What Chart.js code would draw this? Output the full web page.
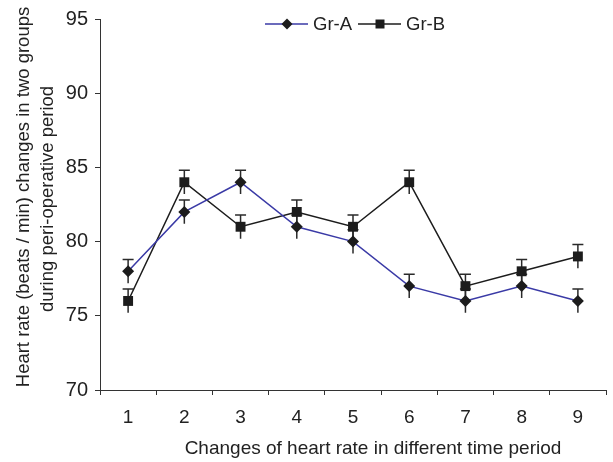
<!DOCTYPE html>
<html>
<head>
<meta charset="utf-8">
<script src="https://cdn.jsdelivr.net/npm/chart.js@4"></script>
<style>
  html, body { margin: 0; padding: 0; background: #fff; }
  #wrap { width: 613px; height: 462px; }
</style>
</head>
<body>
<div id="wrap"><canvas id="chart"></canvas></div>
<script>
const periods = ["1", "2", "3", "4", "5", "6", "7", "8", "9"];
const grA = [78, 82, 84, 81, 80, 77, 76, 77, 76];
const grB = [76, 84, 81, 82, 81, 84, 77, 78, 79];
const errA = [0.8, 0.8, 0.8, 0.8, 0.8, 0.8, 0.8, 0.8, 0.8];
const errB = [0.8, 0.8, 0.8, 0.8, 0.8, 0.8, 0.8, 0.8, 0.8];
const yTicks = [70, 75, 80, 85, 90, 95];

const FONT = "'Liberation Sans', Arial, sans-serif";
const BLUE = "#3a3aa6";
const DARK = "#1c1c1c";

// error bars: stem through the point, cap only on top
const errorBars = {
  id: "errorBars",
  beforeDatasetsDraw(chart) {
    const ctx = chart.ctx;
    const y = chart.scales.y;
    chart.data.datasets.forEach((ds, i) => {
      const meta = chart.getDatasetMeta(i);
      meta.data.forEach((pt, j) => {
        const top = y.getPixelForValue(ds.data[j] + ds.errors[j]);
        const bot = y.getPixelForValue(ds.data[j] - ds.errors[j]);
        ctx.save();
        ctx.strokeStyle = "#2a2a2a";
        ctx.lineWidth = 1.5;
        ctx.beginPath();
        ctx.moveTo(pt.x, bot);
        ctx.lineTo(pt.x, top);
        ctx.moveTo(pt.x - 5.5, top);
        ctx.lineTo(pt.x + 5.5, top);
        ctx.stroke();
        ctx.restore();
      });
    });
  }
};

// axis titles and the legend row inside the plot
const decorations = {
  id: "decorations",
  afterDraw(chart) {
    const ctx = chart.ctx;
    ctx.save();
    ctx.fillStyle = "#222";
    ctx.textAlign = "center";
    ctx.textBaseline = "middle";

    // y title, two lines
    ctx.font = "18.5px " + FONT;
    ctx.save();
    ctx.translate(24, 197);
    ctx.rotate(-Math.PI / 2);
    ctx.fillText("Heart rate (beats / min) changes in two groups", 0, 0);
    ctx.restore();
    ctx.save();
    ctx.translate(48, 199);
    ctx.rotate(-Math.PI / 2);
    ctx.fillText("during peri-operative period", 0, 0);
    ctx.restore();

    // x title
    ctx.font = "19px " + FONT;
    ctx.fillText("Changes of heart rate in different time period", 373, 449);

    // legend
    const ly = 24;
    const items = [
      { x: 265, color: BLUE, marker: "diamond", label: "Gr-A" },
      { x: 358, color: DARK, marker: "square", label: "Gr-B" }
    ];
    ctx.font = "18.5px " + FONT;
    ctx.textAlign = "left";
    items.forEach(it => {
      ctx.strokeStyle = it.color;
      ctx.lineWidth = 1.5;
      ctx.beginPath();
      ctx.moveTo(it.x, ly);
      ctx.lineTo(it.x + 43, ly);
      ctx.stroke();
      const cx = it.x + 22;
      ctx.fillStyle = DARK;
      ctx.beginPath();
      if (it.marker === "diamond") {
        ctx.moveTo(cx, ly - 5.5);
        ctx.lineTo(cx + 5.5, ly);
        ctx.lineTo(cx, ly + 5.5);
        ctx.lineTo(cx - 5.5, ly);
        ctx.closePath();
      } else {
        ctx.rect(cx - 4.5, ly - 4.5, 9, 9);
      }
      ctx.fill();
      ctx.fillStyle = "#222";
      ctx.fillText(it.label, it.x + 48, ly + 1);
    });
    ctx.restore();
  }
};

const ctx = document.getElementById("chart").getContext("2d");
new Chart(ctx, {
  type: "line",
  data: {
    labels: periods,
    datasets: [
      {
        label: "Gr-A",
        data: grA,
        errors: errA,
        borderColor: BLUE,
        borderWidth: 1.5,
        backgroundColor: DARK,
        pointStyle: "rectRot",
        pointRadius: 6,
        pointBorderWidth: 0,
        pointBackgroundColor: DARK,
        tension: 0
      },
      {
        label: "Gr-B",
        data: grB,
        errors: errB,
        borderColor: DARK,
        borderWidth: 1.5,
        backgroundColor: DARK,
        pointStyle: "rect",
        pointRadius: 7,
        pointBorderWidth: 0,
        pointBackgroundColor: DARK,
        tension: 0
      }
    ]
  },
  options: {
    responsive: true,
    maintainAspectRatio: false,
    animation: false,
    layout: { padding: { top: 19, right: 1, left: 0, bottom: 0 } },
    plugins: {
      legend: { display: false },
      tooltip: { enabled: false }
    },
    scales: {
      x: {
        offset: true,
        afterFit(scale) { scale.height = 72; },
        grid: {
          offset: true,
          drawOnChartArea: false,
          tickLength: 5,
          color: "#333"
        },
        border: { color: "#333", width: 1 },
        ticks: {
          padding: 11,
          color: "#222",
          font: { family: FONT, size: 19 }
        }
      },
      y: {
        min: yTicks[0],
        max: yTicks[yTicks.length - 1],
        afterFit(scale) { scale.width = 100; },
        afterBuildTicks(scale) { scale.ticks = yTicks.map(v => ({ value: v })); },
        grid: {
          drawOnChartArea: false,
          tickLength: 5,
          color: "#333"
        },
        border: { color: "#333", width: 1 },
        ticks: {
          padding: 7,
          color: "#222",
          font: { family: FONT, size: 20 }
        }
      }
    }
  },
  plugins: [errorBars, decorations]
});
</script>
</body>
</html>
